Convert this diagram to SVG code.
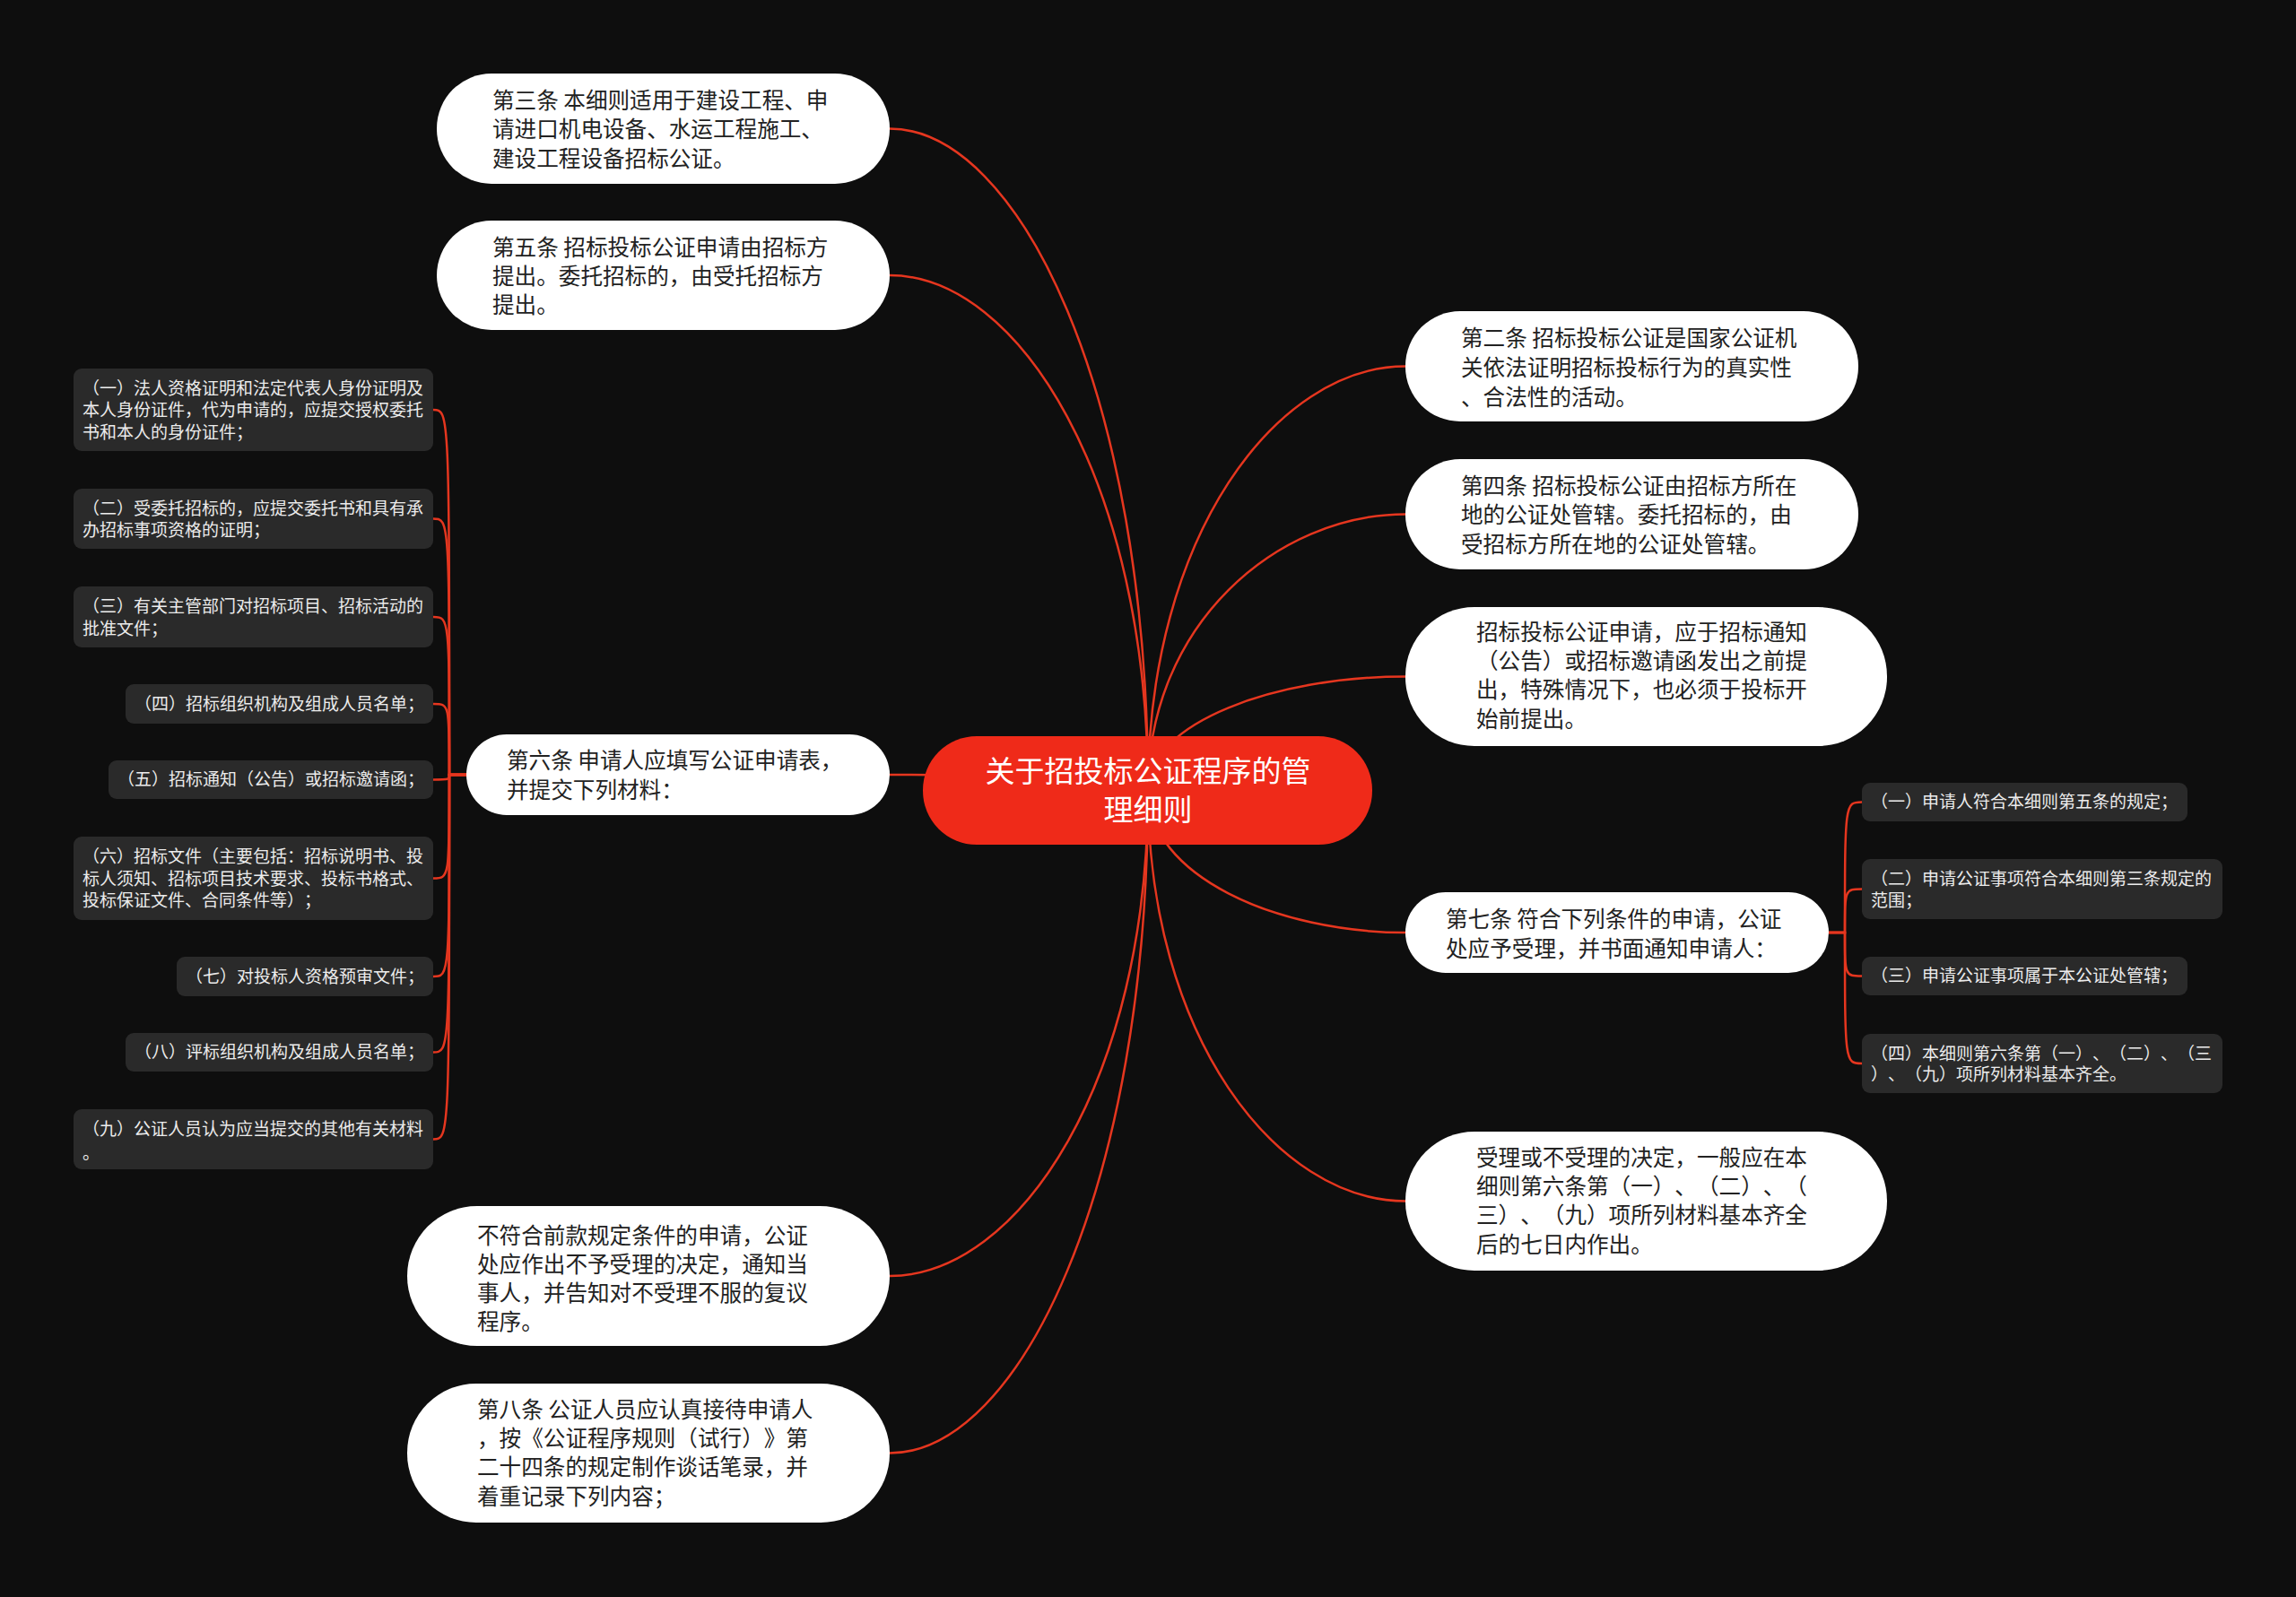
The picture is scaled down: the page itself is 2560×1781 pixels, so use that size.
<svg xmlns="http://www.w3.org/2000/svg" width="2560" height="1781" viewBox="0 0 2560 1781">
<style>
text{font-family:"Noto Sans CJK SC","Noto Sans",sans-serif;text-spacing-trim:space-all;font-kerning:none}
.bg{fill:#0e0e0e}
.pill{fill:#ffffff}
.pt{font-size:24.6px;fill:#222222}
.gray{fill:#2a2a2a}
.gt{font-size:19px;fill:#ececec}
.root{fill:#ef2a19}
.rt{font-size:33px;fill:#ffffff;text-anchor:middle}
.c{fill:none;stroke:#e5361f;stroke-width:2.5}
</style>
<rect class="bg" x="0" y="0" width="2560" height="1781"/>
<g id="connectors">
<path class="c" d="M992 143.5 C1136 143.5 1280 438.5 1280 881"/>
<path class="c" d="M992 307 C1136 307 1280 536.6 1280 881"/>
<path class="c" d="M992 864 C1136 864 1280 870.8 1280 881"/>
<path class="c" d="M992 1423 C1136 1423 1280 1206.2 1280 881"/>
<path class="c" d="M992 1620.5 C1136 1620.5 1280 1324.7 1280 881"/>
<path class="c" d="M1567 408.5 C1423.5 408.5 1280 597.5 1280 881"/>
<path class="c" d="M1567 573.5 C1423.5 573.5 1280 696.5 1280 881"/>
<path class="c" d="M1567 754.5 C1423.5 754.5 1280 805.1 1280 881"/>
<path class="c" d="M1567 1040 C1423.5 1040 1280 976.4 1280 881"/>
<path class="c" d="M1567 1339.5 C1423.5 1339.5 1280 1156.1 1280 881"/>
<path class="c" d="M521 864 L501 864 C501 457 501 457 483 457"/>
<path class="c" d="M521 864 L501 864 C501 578.5 501 578.5 483 578.5"/>
<path class="c" d="M521 864 L501 864 C501 688 501 688 483 688"/>
<path class="c" d="M521 864 L501 864 C501 785 501 785 483 785"/>
<path class="c" d="M521 864 L501 864 C501 869.5 501 869.5 483 869.5"/>
<path class="c" d="M521 864 L501 864 C501 979.5 501 979.5 483 979.5"/>
<path class="c" d="M521 864 L501 864 C501 1089 501 1089 483 1089"/>
<path class="c" d="M521 864 L501 864 C501 1173.5 501 1173.5 483 1173.5"/>
<path class="c" d="M521 864 L501 864 C501 1270.5 501 1270.5 483 1270.5"/>
<path class="c" d="M2039 1040 L2057 1040 C2057 894.5 2057 894.5 2076 894.5"/>
<path class="c" d="M2039 1040 L2057 1040 C2057 991.5 2057 991.5 2076 991.5"/>
<path class="c" d="M2039 1040 L2057 1040 C2057 1088.5 2057 1088.5 2076 1088.5"/>
<path class="c" d="M2039 1040 L2057 1040 C2057 1186 2057 1186 2076 1186"/>
</g>
<g id="root">
<rect class="root" x="1029" y="821" width="501" height="121" rx="60"/>
<text class="rt" x="1280" y="871.5">关于招投标公证程序的管</text>
<text class="rt" x="1280" y="914.5">理细则</text>
</g>
<g id="n-art3">
<rect class="pill" x="487" y="82" width="505" height="123" rx="61"/>
<text class="pt" x="549" y="120.6">第三条 本细则适用于建设工程、申</text>
<text class="pt" x="549" y="153">请进口机电设备、水运工程施工、</text>
<text class="pt" x="549" y="185.6">建设工程设备招标公证。</text>
</g>
<g id="n-art5">
<rect class="pill" x="487" y="246" width="505" height="122" rx="61"/>
<text class="pt" x="549" y="284.6">第五条 招标投标公证申请由招标方</text>
<text class="pt" x="549" y="316.6">提出。委托招标的，由受托招标方</text>
<text class="pt" x="549" y="348.6">提出。</text>
</g>
<g id="n-art6">
<rect class="pill" x="520" y="819" width="472" height="90" rx="45"/>
<text class="pt" x="565" y="856.6">第六条 申请人应填写公证申请表，</text>
<text class="pt" x="565" y="889.6">并提交下列材料：</text>
</g>
<g id="n-reject">
<rect class="pill" x="454" y="1345" width="538" height="156" rx="78"/>
<text class="pt" x="532" y="1386.6">不符合前款规定条件的申请，公证</text>
<text class="pt" x="532" y="1418.6">处应作出不予受理的决定，通知当</text>
<text class="pt" x="532" y="1450.6">事人，并告知对不受理不服的复议</text>
<text class="pt" x="532" y="1482.6">程序。</text>
</g>
<g id="n-art8">
<rect class="pill" x="454" y="1543" width="538" height="155" rx="77"/>
<text class="pt" x="532" y="1580.6">第八条 公证人员应认真接待申请人</text>
<text class="pt" x="532" y="1613">，按《公证程序规则（试行）》第</text>
<text class="pt" x="532" y="1645.4">二十四条的规定制作谈话笔录，并</text>
<text class="pt" x="532" y="1677.8">着重记录下列内容；</text>
</g>
<g id="n-art2">
<rect class="pill" x="1567" y="347" width="505" height="123" rx="61"/>
<text class="pt" x="1629" y="385.6">第二条 招标投标公证是国家公证机</text>
<text class="pt" x="1629" y="418.6">关依法证明招标投标行为的真实性</text>
<text class="pt" x="1629" y="451.6">、合法性的活动。</text>
</g>
<g id="n-art4">
<rect class="pill" x="1567" y="512" width="505" height="123" rx="61"/>
<text class="pt" x="1629" y="550.6">第四条 招标投标公证由招标方所在</text>
<text class="pt" x="1629" y="583">地的公证处管辖。委托招标的，由</text>
<text class="pt" x="1629" y="615.6">受招标方所在地的公证处管辖。</text>
</g>
<g id="n-apply">
<rect class="pill" x="1567" y="677" width="537" height="155" rx="77"/>
<text class="pt" x="1646" y="713.6">招标投标公证申请，应于招标通知</text>
<text class="pt" x="1646" y="746">（公告）或招标邀请函发出之前提</text>
<text class="pt" x="1646" y="778.4">出，特殊情况下，也必须于投标开</text>
<text class="pt" x="1646" y="810.8">始前提出。</text>
</g>
<g id="n-art7">
<rect class="pill" x="1567" y="995" width="472" height="90" rx="45"/>
<text class="pt" x="1612" y="1033.6">第七条 符合下列条件的申请，公证</text>
<text class="pt" x="1612" y="1066.6">处应予受理，并书面通知申请人：</text>
</g>
<g id="n-decide">
<rect class="pill" x="1567" y="1262" width="537" height="155" rx="77"/>
<text class="pt" x="1646" y="1299.6">受理或不受理的决定，一般应在本</text>
<text class="pt" x="1646" y="1332">细则第六条第（一）、（二）、（</text>
<text class="pt" x="1646" y="1364.4">三）、（九）项所列材料基本齐全</text>
<text class="pt" x="1646" y="1396.8">后的七日内作出。</text>
</g>
<g id="m1">
<rect class="gray" x="82" y="411" width="401" height="92" rx="9"/>
<text class="gt" x="92" y="439.8">（一）法人资格证明和法定代表人身份证明及</text>
<text class="gt" x="92" y="464.3">本人身份证件，代为申请的，应提交授权委托</text>
<text class="gt" x="92" y="488.8">书和本人的身份证件；</text>
</g>
<g id="m2">
<rect class="gray" x="82" y="545" width="401" height="67" rx="9"/>
<text class="gt" x="92" y="573.8">（二）受委托招标的，应提交委托书和具有承</text>
<text class="gt" x="92" y="598.3">办招标事项资格的证明；</text>
</g>
<g id="m3">
<rect class="gray" x="82" y="654" width="401" height="68" rx="9"/>
<text class="gt" x="92" y="683.3">（三）有关主管部门对招标项目、招标活动的</text>
<text class="gt" x="92" y="707.8">批准文件；</text>
</g>
<g id="m4">
<rect class="gray" x="140" y="763" width="343" height="44" rx="9"/>
<text class="gt" x="150" y="791.8">（四）招标组织机构及组成人员名单；</text>
</g>
<g id="m5">
<rect class="gray" x="121" y="848" width="362" height="43" rx="9"/>
<text class="gt" x="131" y="876.3">（五）招标通知（公告）或招标邀请函；</text>
</g>
<g id="m6">
<rect class="gray" x="82" y="933" width="401" height="93" rx="9"/>
<text class="gt" x="92" y="962.3">（六）招标文件（主要包括：招标说明书、投</text>
<text class="gt" x="92" y="986.8">标人须知、招标项目技术要求、投标书格式、</text>
<text class="gt" x="92" y="1011.3">投标保证文件、合同条件等）；</text>
</g>
<g id="m7">
<rect class="gray" x="197" y="1067" width="286" height="44" rx="9"/>
<text class="gt" x="207" y="1095.8">（七）对投标人资格预审文件；</text>
</g>
<g id="m8">
<rect class="gray" x="140" y="1152" width="343" height="43" rx="9"/>
<text class="gt" x="150" y="1180.3">（八）评标组织机构及组成人员名单；</text>
</g>
<g id="m9">
<rect class="gray" x="82" y="1237" width="401" height="67" rx="9"/>
<text class="gt" x="92" y="1265.8">（九）公证人员认为应当提交的其他有关材料</text>
<text class="gt" x="92" y="1293.3">。</text>
</g>
<g id="k1">
<rect class="gray" x="2076" y="873" width="363" height="43" rx="9"/>
<text class="gt" x="2086" y="901.3">（一）申请人符合本细则第五条的规定；</text>
</g>
<g id="k2">
<rect class="gray" x="2076" y="958" width="402" height="67" rx="9"/>
<text class="gt" x="2086" y="986.8">（二）申请公证事项符合本细则第三条规定的</text>
<text class="gt" x="2086" y="1011.3">范围；</text>
</g>
<g id="k3">
<rect class="gray" x="2076" y="1067" width="363" height="43" rx="9"/>
<text class="gt" x="2086" y="1095.3">（三）申请公证事项属于本公证处管辖；</text>
</g>
<g id="k4">
<rect class="gray" x="2076" y="1153" width="402" height="66" rx="9"/>
<text class="gt" x="2086" y="1181.8">（四）本细则第六条第（一）、（二）、（三</text>
<text class="gt" x="2086" y="1205.3">）、（九）项所列材料基本齐全。</text>
</g>
</svg>
